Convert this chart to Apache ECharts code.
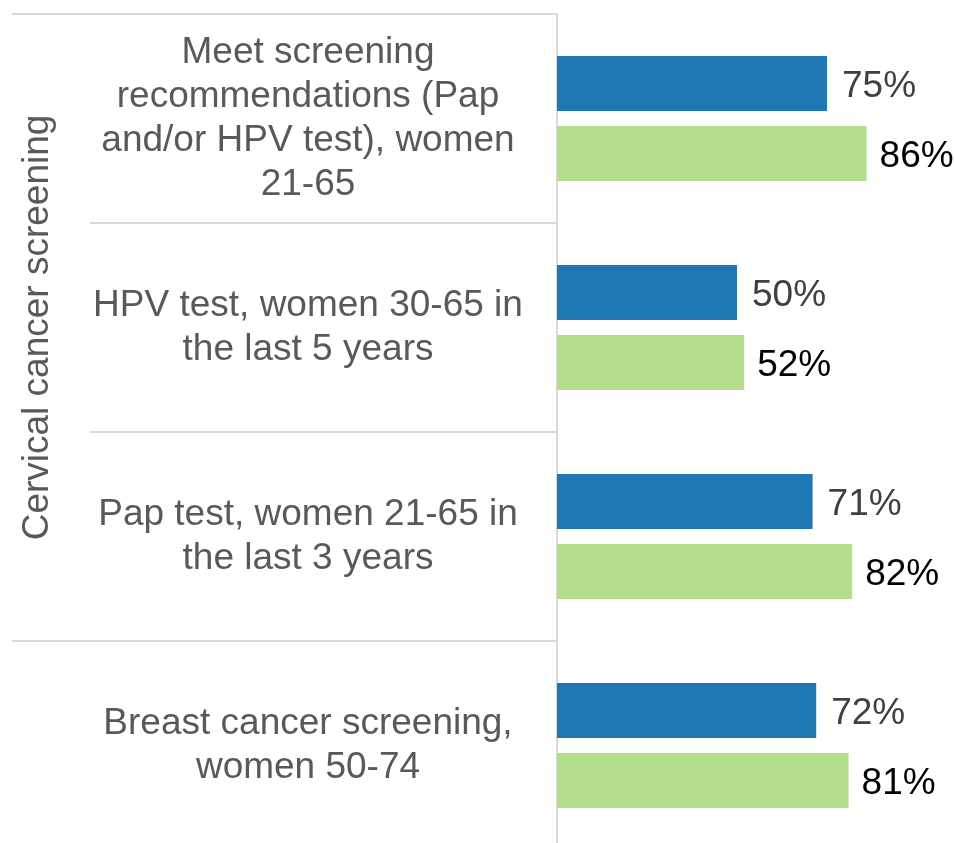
<!DOCTYPE html>
<html>
<head>
<meta charset="utf-8">
<script src="https://cdn.jsdelivr.net/npm/echarts@6/dist/echarts.min.js"></script>
<style>
  html, body { margin: 0; padding: 0; background: #fff; overflow: hidden; }
  /* the plot runs a little past the bottom edge of the page */
  #chart { width: 954px; height: 860px; }
</style>
</head>
<body>
<div id="chart"></div>
<script>
// Screening measures, listed top to bottom
const categories = [
  'Meet screening\nrecommendations (Pap\nand/or HPV test), women\n21-65',
  'HPV test, women 30-65 in\nthe last 5 years',
  'Pap test, women 21-65 in\nthe last 3 years',
  'Breast cancer screening,\nwomen 50-74'
];
// Percent of women screened, two comparison groups
const seriesA = [75, 50, 71, 72];
const seriesB = [86, 52, 82, 81];
// Group heading covering the first three measures
const groupLabel = 'Cervical cancer screening';
const groupSpan = 3;

const FONT = '"Liberation Sans", Arial, sans-serif';
const LINE = '#d9d9d9';

const chart = echarts.init(document.getElementById('chart'), null, { renderer: 'canvas' });

const option = {
  animation: false,
  backgroundColor: '#ffffff',
  grid: { left: 557, top: 14, width: 360, height: 836, containLabel: false },
  xAxis: {
    type: 'value', min: 0, max: 100,
    show: false
  },
  yAxis: {
    type: 'category',
    inverse: true,
    data: categories,
    axisLine: { show: true, lineStyle: { color: LINE, width: 2 } },
    axisTick: { show: true, length: 467, lineStyle: { color: LINE, width: 2 } },
    axisLabel: {
      margin: 249,
      align: 'center',
      color: '#595959',
      fontFamily: FONT,
      fontSize: 37,
      lineHeight: 44
    },
    splitLine: { show: false }
  },
  series: [
    {
      name: 'A', type: 'bar', data: seriesA,
      barWidth: 55, barGap: '27%',
      itemStyle: { color: '#1f77b4' },
      label: {
        show: true, position: 'right', distance: 15, offset: [0, 3],
        formatter: p => p.value + '%',
        color: '#404040', fontFamily: FONT, fontSize: 37
      }
    },
    {
      name: 'B', type: 'bar', data: seriesB,
      barWidth: 55, barGap: '27%',
      itemStyle: { color: '#b3df8c' },
      label: {
        show: true, position: 'right', distance: 13, offset: [0, 3],
        formatter: p => p.value + '%',
        color: '#000000', fontFamily: FONT, fontSize: 37
      }
    }
  ]
};
chart.setOption(option);

// Group boundaries and the rotated group heading, placed from the category axis
function addGroupDecor() {
  const axisX = chart.convertToPixel({ xAxisIndex: 0 }, 0);
  const c0 = chart.convertToPixel({ yAxisIndex: 0 }, 0);
  const c1 = chart.convertToPixel({ yAxisIndex: 0 }, 1);
  const step = c1 - c0;
  const topEdge = c0 - step / 2;
  const groupEdge = topEdge + step * groupSpan;
  const leftX = 12;
  chart.setOption({
    graphic: [
      { type: 'line', shape: { x1: leftX, y1: topEdge, x2: axisX, y2: topEdge },
        style: { stroke: LINE, lineWidth: 2 }, silent: true },
      { type: 'line', shape: { x1: leftX, y1: groupEdge, x2: axisX, y2: groupEdge },
        style: { stroke: LINE, lineWidth: 2 }, silent: true },
      { type: 'text', x: 38, y: (topEdge + groupEdge) / 2, rotation: Math.PI / 2,
        style: { text: groupLabel, fill: '#595959', font: '37px ' + FONT,
                 align: 'center', verticalAlign: 'middle' }, silent: true }
    ]
  });
}
addGroupDecor();
</script>
</body>
</html>
